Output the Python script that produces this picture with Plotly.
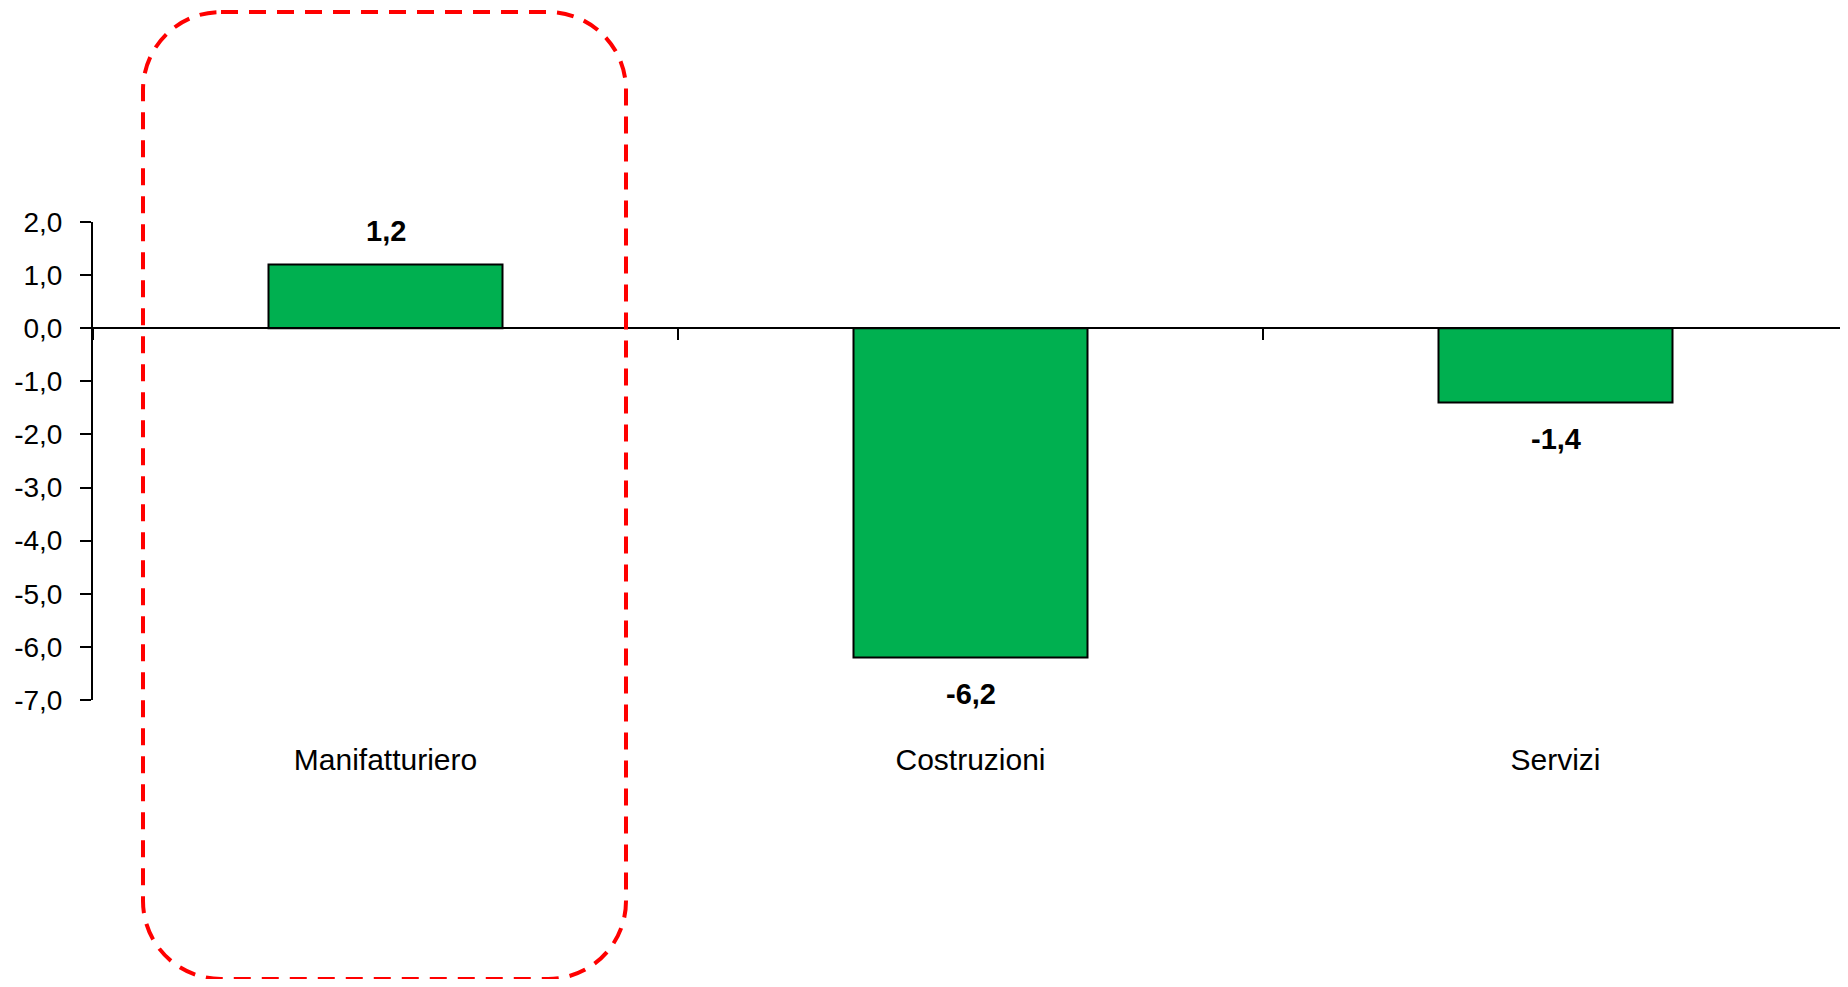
import plotly.graph_objects as go

categories = ["Manifatturiero", "Costruzioni", "Servizi"]
values = [1.2, -6.2, -1.4]
value_labels = ["1,2", "-6,2", "-1,4"]
y_tickvals = [2, 1, 0, -1, -2, -3, -4, -5, -6, -7]
y_ticktext = ["2,0", "1,0", "0,0", "-1,0", "-2,0", "-3,0", "-4,0", "-5,0", "-6,0", "-7,0"]

OFF = 8  # default page body margin
W, H = 1848 - OFF, 987 - 2 * OFF
ML, MR, MT = 85, 0, 214
MB = H - (700 - OFF)
YMIN, YMAX = -7, 2
FONT = "Liberation Sans, Arial, sans-serif"

fig = go.Figure()
fig.add_trace(go.Bar(
    x=categories, y=values, width=0.4,
    marker=dict(color="#00B050", line=dict(color="black", width=2)),
    hoverinfo="skip",
))

for c, v, t in zip(categories, values, value_labels):
    fig.add_annotation(
        x=c, y=v, text=f"<b>{t}</b>", showarrow=False,
        yanchor="middle", yshift=33 if v >= 0 else -36,
        font=dict(family=FONT, size=29, color="black"),
    )

zero_pos = (0 - YMIN) / (YMAX - YMIN)
plot_w = W - ML - MR
plot_h = H - MT - MB

# Rounded dashed highlight box (page-pixel geometry converted to paper coords)
bx0, bx1, by0, by1, r = 143 - OFF, 626 - OFF, 12 - OFF, 979 - OFF, 78
def px(xp):
    return (xp - ML) / plot_w
def py(yp):
    return (H - MB - yp) / plot_h
k = 0.5523 * r
path = (
    f"M {px(bx0 + r)},{py(by0)} L {px(bx1 - r)},{py(by0)} "
    f"C {px(bx1 - r + k)},{py(by0)} {px(bx1)},{py(by0 + r - k)} {px(bx1)},{py(by0 + r)} "
    f"L {px(bx1)},{py(by1 - r)} "
    f"C {px(bx1)},{py(by1 - r + k)} {px(bx1 - r + k)},{py(by1)} {px(bx1 - r)},{py(by1)} "
    f"L {px(bx0 + r)},{py(by1)} "
    f"C {px(bx0 + r - k)},{py(by1)} {px(bx0)},{py(by1 - r + k)} {px(bx0)},{py(by1 - r)} "
    f"L {px(bx0)},{py(by0 + r)} "
    f"C {px(bx0)},{py(by0 + r - k)} {px(bx0 + r - k)},{py(by0)} {px(bx0 + r)},{py(by0)} Z"
)
fig.add_shape(type="path", path=path, xref="paper", yref="paper",
              line=dict(color="#FF0000", width=4, dash="17px,11px"),
              fillcolor="rgba(0,0,0,0)", layer="above")

fig.update_layout(
    width=W, height=H,
    margin=dict(l=ML, r=MR, t=MT, b=MB, pad=0),
    plot_bgcolor="white", paper_bgcolor="white",
    showlegend=False, separators=",.",
    font=dict(family=FONT, color="black"),
    xaxis=dict(
        range=[-0.5, 2.5], anchor="free", position=zero_pos,
        showline=True, linecolor="black", linewidth=2,
        ticks="outside", tickson="boundaries", ticklen=11, tickwidth=2, tickcolor="black",
        ticklabelstandoff=405,
        tickfont=dict(family=FONT, size=30, color="black"),
        showgrid=False, zeroline=False, fixedrange=True,
    ),
    yaxis=dict(
        range=[YMIN, YMAX], tickvals=y_tickvals, ticktext=y_ticktext,
        showline=True, linecolor="black", linewidth=2,
        ticks="outside", ticklen=11, tickwidth=2, tickcolor="black",
        ticklabelstandoff=12,
        tickfont=dict(family=FONT, size=28, color="black"),
        showgrid=False, zeroline=False, fixedrange=True,
    ),
)

fig.write_html("out.html", config={"displayModeBar": False})
